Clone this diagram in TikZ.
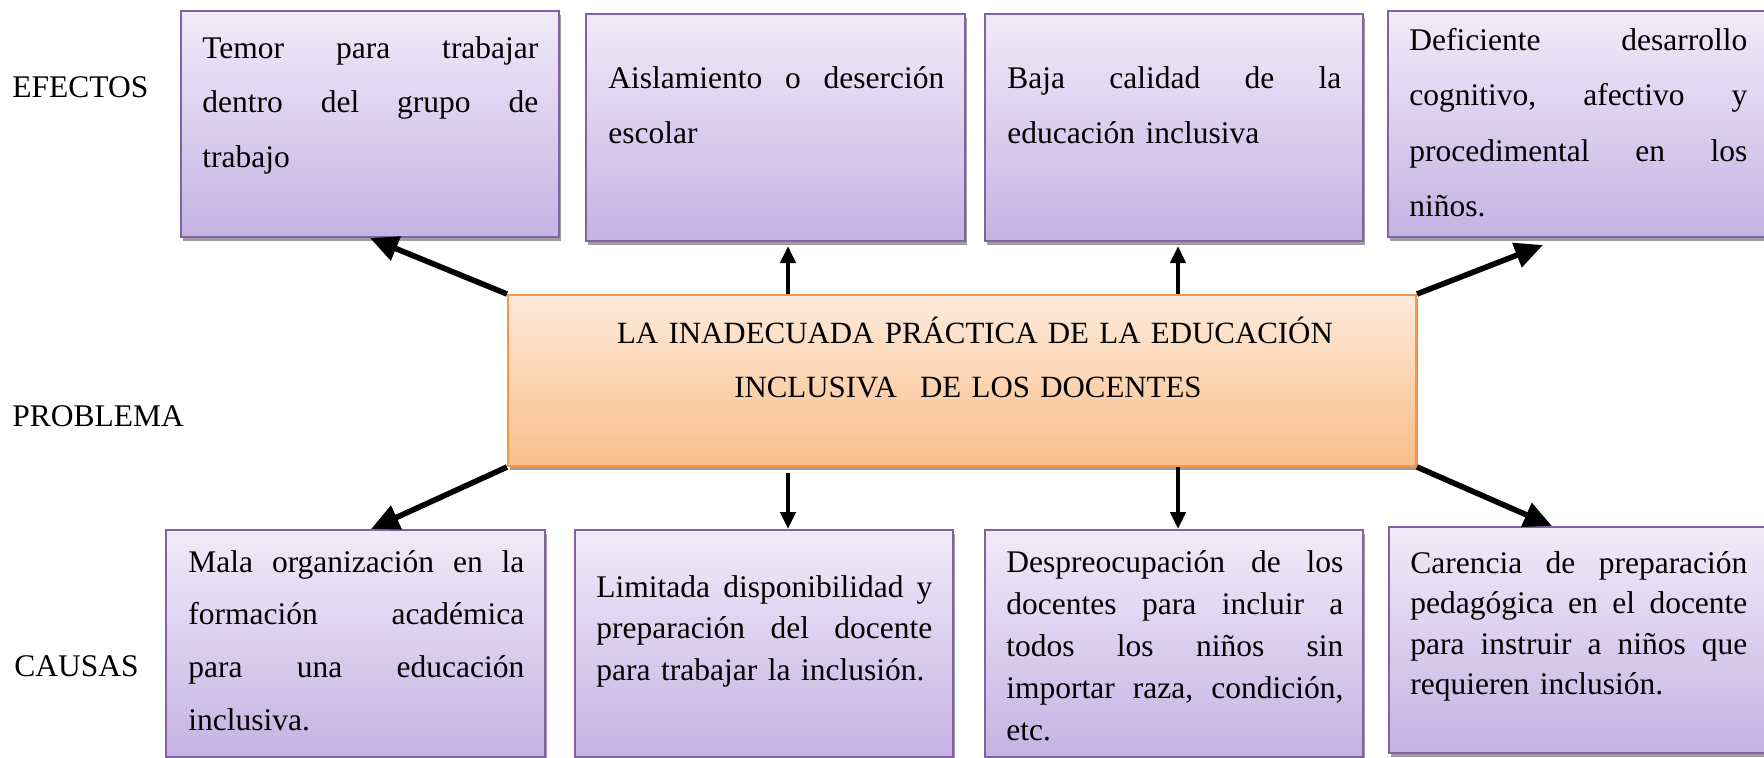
\documentclass[tikz,border=0pt]{standalone}
\usepackage{fontspec}
\setmainfont{Liberation Serif}
\usetikzlibrary{arrows.meta,shadows}
\definecolor{pborder}{HTML}{8064A2}
\definecolor{ptop}{RGB}{240,235,249}
\definecolor{pbot}{RGB}{196,179,227}
\definecolor{otop}{RGB}{253,234,219}
\definecolor{obot}{RGB}{250,190,137}
\definecolor{oborder}{HTML}{F79646}
\newcommand\jl[1]{\leavevmode\hbox to\hsize{#1}}
\begin{document}
\begin{tikzpicture}[x=0.5pt,y=-0.5pt,
  pbox/.style={rectangle,draw=pborder,line width=1pt,top color=ptop,bottom color=pbot,inner sep=0pt,
    drop shadow={shadow xshift=0.8pt,shadow yshift=-1.8pt,fill=black!38,opacity=1}},
  obox/.style={rectangle,draw=oborder,line width=1pt,top color=otop,bottom color=obot,inner sep=0pt,
    drop shadow={shadow xshift=0.8pt,shadow yshift=-2.2pt,fill=black!38,opacity=1}},
  txt/.style={anchor=base west,inner sep=0pt,align=left,text width=168pt},
  lbl/.style={anchor=base west,inner sep=0pt,font=\fontsize{15.75}{18}\selectfont},
  darr/.style={line width=2.8pt,-{Triangle[length=14pt,width=12.5pt]}},
  varr/.style={line width=2.3pt,-{Triangle[length=8.5pt,width=7.5pt]}}]
\useasboundingbox (0,0) rectangle (1764,757);
% effect boxes
\node[pbox,minimum width=189pt,minimum height=113pt] (b1) at (370,124) {};
\node[pbox,minimum width=189.5pt,minimum height=113.5pt] (b2) at (775.5,127.5) {};
\node[pbox,minimum width=189pt,minimum height=113.5pt] (b3) at (1174,127.5) {};
\node[pbox,minimum width=190pt,minimum height=113pt] (b4) at (1578,124) {};
% problem box
\node[obox,minimum width=454pt,minimum height=85.5pt] (c) at (962,380.5) {};
% cause boxes
\node[pbox,minimum width=189.5pt,minimum height=113.5pt] (b5) at (355.5,643.5) {};
\node[pbox,minimum width=189pt,minimum height=113.5pt] (b6) at (764,643.5) {};
\node[pbox,minimum width=189pt,minimum height=113.5pt] (b7) at (1174,643.5) {};
\node[pbox,minimum width=190pt,minimum height=113pt] (b8) at (1579,640) {};
% labels
\node[lbl] (l1) at (12,97) {EFECTOS};
\node[lbl] (l2) at (12,426) {PROBLEMA};
\node[lbl] (l3) at (14,676) {CAUSAS};
% texts
\node[txt,font=\fontsize{15.75}{27.25}\selectfont] (t1) at (202,58)
  {\jl{Temor\hfill para\hfill trabajar}\\\jl{dentro\hfill del\hfill grupo\hfill de}\\trabajo};
\node[txt,font=\fontsize{15.75}{27.5}\selectfont] (t2) at (608,88)
  {\jl{Aislamiento\hfill o\hfill deserción}\\escolar};
\node[txt,font=\fontsize{15.75}{27.5}\selectfont,text width=167pt] (t3) at (1007,88)
  {\jl{Baja\hfill calidad\hfill de\hfill la}\\educación inclusiva};
\node[txt,font=\fontsize{15.75}{27.8}\selectfont,text width=169pt] (t4) at (1409,50)
  {\jl{Deficiente\hfill desarrollo}\\\jl{cognitivo,\hfill afectivo\hfill y}\\\jl{procedimental\hfill en\hfill los}\\niños.};
\node[txt,font=\fontsize{15.75}{26.4}\selectfont] (t5) at (188,572)
  {\jl{Mala\hfill organización\hfill en\hfill la}\\\jl{formación\hfill académica}\\\jl{para\hfill una\hfill educación}\\inclusiva.};
\node[txt,font=\fontsize{15.75}{20.75}\selectfont] (t6) at (596,597)
  {\jl{Limitada\hfill disponibilidad\hfill y}\\\jl{preparación\hfill del\hfill docente}\\para trabajar la inclusión.};
\node[txt,font=\fontsize{15.75}{21}\selectfont,text width=168.5pt] (t7) at (1006,572)
  {\jl{Despreocupación\hfill de\hfill los}\\\jl{docentes\hfill para\hfill incluir\hfill a}\\\jl{todos\hfill los\hfill niños\hfill sin}\\\jl{importar\hfill raza,\hfill condición,}\\etc.};
\node[txt,font=\fontsize{15.75}{20.3}\selectfont,text width=168.5pt] (t8) at (1410,573)
  {\jl{Carencia\hfill de\hfill preparación}\\\jl{pedagógica\hfill en\hfill el\hfill docente}\\\jl{para\hfill instruir\hfill a\hfill niños\hfill que}\\requieren inclusión.};
\node[anchor=base,inner sep=0pt,align=center,text width=440pt,font=\fontsize{15.45}{27.2}\selectfont] (ct) at (968,343)
  {\hspace*{7pt}LA INADECUADA PRÁCTICA DE LA EDUCACIÓN\\INCLUSIVA\hspace{11.7pt}DE LOS DOCENTES\hspace*{7pt}};
% arrow end points
\coordinate (e2) at (788,246);
\coordinate (e3) at (1178,246);
\coordinate (e4) at (1543,245);
\coordinate (s6a) at (788,473);
\coordinate (s7a) at (1178,467);
% arrows to effects
\draw[darr] (c.north west) -- (b1.south);
\draw[varr] (c.north -| e2) -- (e2);
\draw[varr] (c.north -| e3) -- (e3);
\draw[darr] (c.north east) -- (e4);
% arrows to causes
\draw[darr] (c.south west) -- ([xshift=7.75pt]b5.north);
\draw[varr] (s6a) -- (b6.north -| s6a);
\draw[varr] (s7a) -- (b7.north -| s7a);
\draw[darr] (c.south east) -- ([xshift=-13.5pt]b8.north);
\end{tikzpicture}
\end{document}
